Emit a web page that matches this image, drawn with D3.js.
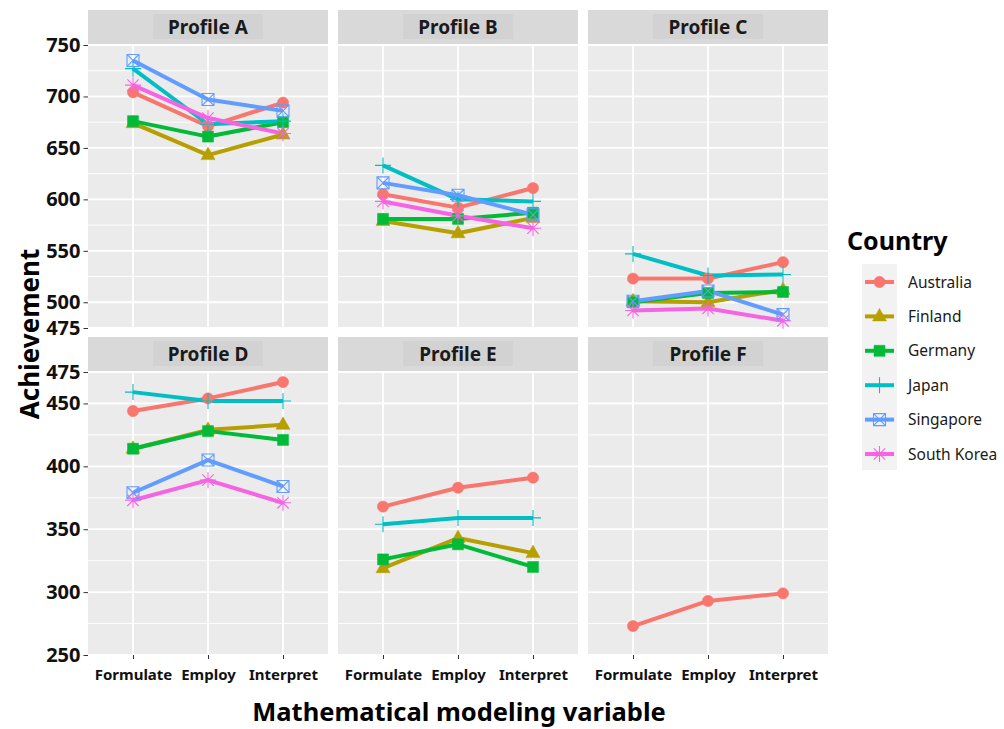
<!DOCTYPE html>
<html>
<head>
<meta charset="utf-8">
<script src="https://cdn.jsdelivr.net/npm/d3@7"></script>
<style>
  body { margin: 0; background: #fff; }
  text { font-family: "Noto Sans", "Open Sans", sans-serif; }
</style>
</head>
<body>
<script>
  var measures = ["Formulate", "Employ", "Interpret"];
  var countries = ["Australia", "Finland", "Germany", "Japan", "Singapore", "South Korea"];
  var colors = ["#F8766D", "#B79F00", "#00BA38", "#00BFC4", "#619CFF", "#F564E3"];
  var shapes = ["circle", "triangle", "square", "plus", "boxcross", "asterisk"];
  var profiles = ["Profile A", "Profile B", "Profile C", "Profile D", "Profile E", "Profile F"];

  // one row per country, in the order of `countries`; null = no data
  var profileA = [[704, 671, 694], [674, 643, 663], [676, 661, 675], [727, 673, 676], [735, 697, 686], [711, 679, 664]];
  var profileB = [[605, 592, 611], [579, 567, 582], [581, 581, 587], [633, 600, 598], [616, 604, 585], [598, 584, 572]];
  var profileC = [[523, 523, 539], [501, 500, 512], [500, 509, 510], [547, 526, 527], [501, 511, 488], [492, 494, 482]];
  var profileD = [[444, 454, 467], [414, 429, 433], [414, 428, 421], [459, 452, 452], [379, 405, 384], [373, 389, 371]];
  var profileE = [[368, 383, 391], [319, 343, 331], [326, 338, 320], [354, 359, 359], null, null];
  var profileF = [[273, 293, 299], null, null, null, null, null];
  var panelData = [profileA, profileB, profileC, profileD, profileE, profileF];

  var topTicks = [475, 500, 550, 600, 650, 700, 750];
  var topMinor = [525, 575, 625, 675, 725];
  var bottomTicks = [250, 300, 350, 400, 450, 475];
  var bottomMinor = [275, 325, 375, 425];

  var width = 1004, height = 729;
  var svg = d3.select("body").append("svg").attr("width", width).attr("height", height);

  var panelX = [88, 338, 588], panelW = 240, panelH = 283, stripH = 35;
  var rowY = [45, 372];
  var rowDomain = [[475, 750], [250, 475]];
  var rowTicks = [topTicks, bottomTicks];
  var rowMinor = [topMinor, bottomMinor];

  var x = d3.scalePoint().domain(measures).range([0, panelW]).padding(0.6);

  function shapePath(s) {
    switch (s) {
      case "circle": return d3.symbol(d3.symbolCircle, 100)();
      case "triangle": return "M0,-8L7,4.5L-7,4.5Z";
      case "square": return "M-5.5,-5.5H5.5V5.5H-5.5Z";
      case "plus": return "M-8,0H8M0,-8V8";
      case "boxcross": return "M-6,-6H6V6H-6ZM-6,-6L6,6M6,-6L-6,6";
      case "asterisk": return "M-8,0H8M0,-8V8M-5.7,-5.7L5.7,5.7M5.7,-5.7L-5.7,5.7";
    }
  }
  function drawPoint(g, k, px, py) {
    var filled = k < 3;
    g.append("path")
      .attr("transform", "translate(" + px + "," + py + ")")
      .attr("d", shapePath(shapes[k]))
      .attr("fill", filled ? colors[k] : "none")
      .attr("stroke", colors[k])
      .attr("stroke-width", filled ? 0.5 : 1.1);
  }

  profiles.forEach(function(name, i) {
    var row = Math.floor(i / 3), col = i % 3;
    var x0 = panelX[col], y0 = rowY[row];
    var y = d3.scaleLinear().domain(rowDomain[row]).range([panelH, 0]);

    // strip
    var strip = svg.append("g").attr("transform", "translate(" + x0 + "," + (y0 - stripH) + ")");
    strip.append("rect").attr("width", panelW).attr("height", stripH).attr("fill", "#d9d9d9");
    strip.append("rect").attr("x", panelW / 2 - 55).attr("y", 4).attr("width", 110).attr("height", 25).attr("fill", "#d2d2d2");
    strip.append("text").attr("x", panelW / 2).attr("y", stripH / 2 + 6.5)
      .attr("text-anchor", "middle").attr("font-weight", "bold").attr("font-size", 19)
      .attr("fill", "#1a1a1a").text(name);

    var g = svg.append("g").attr("transform", "translate(" + x0 + "," + y0 + ")");
    g.append("rect").attr("width", panelW).attr("height", panelH).attr("fill", "#ebebeb");

    g.selectAll(".minor").data(rowMinor[row]).enter().append("line")
      .attr("x1", 0).attr("x2", panelW)
      .attr("y1", function(d) { return y(d); }).attr("y2", function(d) { return y(d); })
      .attr("stroke", "#fff").attr("stroke-width", 0.9);
    g.selectAll(".major").data(rowTicks[row]).enter().append("line")
      .attr("x1", 0).attr("x2", panelW)
      .attr("y1", function(d) { return y(d); }).attr("y2", function(d) { return y(d); })
      .attr("stroke", "#fff").attr("stroke-width", 1.8);
    g.selectAll(".vgrid").data(measures).enter().append("line")
      .attr("x1", function(d) { return x(d); }).attr("x2", function(d) { return x(d); })
      .attr("y1", 0).attr("y2", panelH)
      .attr("stroke", "#fff").attr("stroke-width", 1.8);

    var line = d3.line()
      .x(function(d, j) { return x(measures[j]); })
      .y(function(d) { return y(d); });

    var data = panelData[i];
    data.forEach(function(vals, k) {
      if (!vals) return;
      g.append("path").attr("d", line(vals)).attr("fill", "none")
        .attr("stroke", colors[k]).attr("stroke-width", 4).attr("stroke-linejoin", "round");
    });
    data.forEach(function(vals, k) {
      if (!vals) return;
      vals.forEach(function(v, j) { drawPoint(g, k, x(measures[j]), y(v)); });
    });

    if (col === 0) {
      var ya = g.append("g").call(d3.axisLeft(y).tickValues(rowTicks[row]).tickSize(4.5).tickPadding(3));
      ya.select(".domain").remove();
      ya.selectAll("line").attr("stroke", "#333");
      ya.selectAll("text").attr("font-size", 20).attr("font-weight", "bold").attr("fill", "#111")
        .attr("font-family", "Noto Sans");
    }
    if (row === 1) {
      var xa = g.append("g").attr("transform", "translate(0," + panelH + ")")
        .call(d3.axisBottom(x).tickSize(4).tickPadding(10));
      xa.select(".domain").remove();
      xa.selectAll("line").attr("stroke", "#333");
      xa.selectAll("text").attr("font-size", 15).attr("font-weight", "bold").attr("fill", "#111")
        .attr("font-family", "Noto Sans");
    }
  });

  // axis titles
  svg.append("text").attr("x", 459).attr("y", 721).attr("text-anchor", "middle")
    .attr("font-size", 25.5).attr("font-weight", "bold").attr("fill", "#000")
    .text("Mathematical modeling variable");
  svg.append("text").attr("transform", "translate(39,334) rotate(-90)").attr("text-anchor", "middle")
    .attr("font-size", 26).attr("font-weight", "bold").attr("fill", "#000")
    .text("Achievement");

  // legend
  var lg = svg.append("g").attr("transform", "translate(847,0)");
  lg.append("text").attr("x", 0).attr("y", 250).attr("font-size", 25).attr("font-weight", "bold")
    .attr("fill", "#000").text("Country");
  lg.append("rect").attr("x", 15).attr("y", 264).attr("width", 35).attr("height", 206).attr("fill", "#f2f2f2");
  countries.forEach(function(c, k) {
    var cy = 282 + k * 34.4;
    lg.append("line").attr("x1", 18).attr("x2", 47).attr("y1", cy).attr("y2", cy)
      .attr("stroke", colors[k]).attr("stroke-width", 4);
    drawPoint(lg, k, 32.5, cy);
    lg.append("text").attr("x", 61).attr("y", cy + 5.5).attr("font-size", 15.5)
      .attr("font-family", "Liberation Sans, Arial, sans-serif").attr("fill", "#1a1a1a").text(c);
  });
</script>
</body>
</html>
